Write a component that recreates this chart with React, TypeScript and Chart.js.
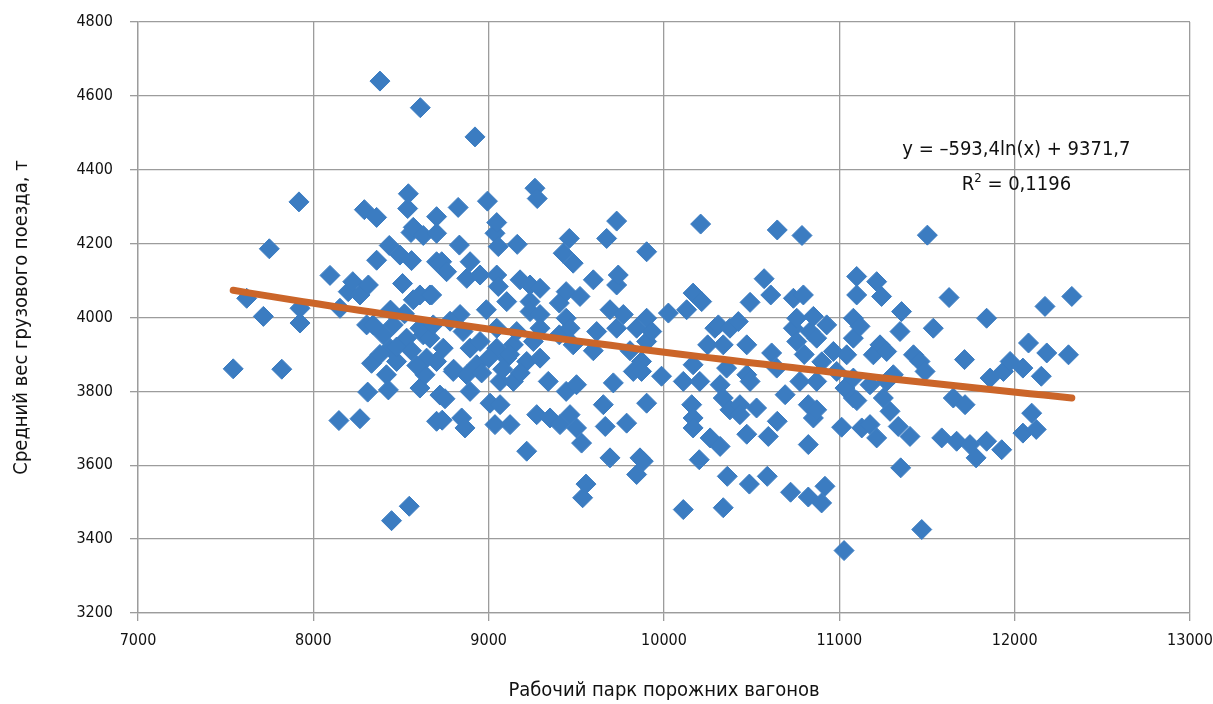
import React, { useEffect, useRef } from 'react';
import { Chart, registerables } from 'chart.js';

Chart.register(...registerables);

const FONT = "'Liberation Sans Narrow', 'DejaVu Sans Condensed', 'Roboto Condensed', Arial, sans-serif";

const xValues = [
  7543, 7620, 7715, 7749, 7820, 7918, 7924, 7924, 8095, 8146, 8152, 8199, 8225, 8266, 8266, 8291, 8304, 8310, 8314, 8332,
  8341, 8361, 8361, 8380, 8399, 8417, 8428, 8433, 8437, 8446, 8456, 8475, 8494, 8509, 8532, 8538, 8542, 8547, 8557, 8560,
  8570, 8570, 8608, 8608, 8608, 8610, 8627, 8627, 8637, 8646, 8665, 8665, 8675, 8684, 8703, 8703, 8703, 8703, 8703, 8722,
  8732, 8735, 8741, 8751, 8760, 8798, 8826, 8833, 8837, 8846, 8854, 8865, 8875, 8875, 8894, 8894, 8894, 8922, 8932, 8951,
  8951, 8987, 8993, 9008, 9036, 9036, 9046, 9046, 9046, 9046, 9055, 9055, 9065, 9065, 9103, 9103, 9122, 9141, 9141, 9160,
  9163, 9179, 9217, 9217, 9236, 9236, 9236, 9255, 9264, 9274, 9277, 9293, 9293, 9293, 9293, 9340, 9350, 9403, 9403, 9407,
  9425, 9442, 9442, 9442, 9460, 9464, 9464, 9482, 9482, 9501, 9501, 9521, 9530, 9536, 9555, 9597, 9597, 9616, 9654, 9665,
  9673, 9692, 9692, 9711, 9730, 9730, 9730, 9739, 9768, 9787, 9806, 9825, 9844, 9844, 9863, 9872, 9872, 9882, 9901, 9901,
  9901, 9901, 9930, 9986, 10025, 10110, 10110, 10129, 10158, 10166, 10166, 10166, 10166, 10201, 10204, 10209, 10215, 10249, 10263, 10290,
  10310, 10320, 10320, 10338, 10338, 10338, 10357, 10361, 10376, 10376, 10424, 10433, 10433, 10472, 10472, 10472, 10487, 10491, 10491, 10528,
  10571, 10589, 10595, 10609, 10614, 10643, 10646, 10646, 10691, 10722, 10738, 10738, 10757, 10757, 10775, 10787, 10795, 10823, 10823, 10823,
  10833, 10852, 10852, 10871, 10871, 10871, 10899, 10918, 10928, 10966, 10985, 11013, 11027, 11032, 11042, 11080, 11080, 11080, 11080, 11099,
  11099, 11118, 11100, 11128, 11175, 11175, 11194, 11213, 11213, 11232, 11241, 11251, 11270, 11270, 11289, 11308, 11336, 11346, 11350, 11355,
  11403, 11423, 11460, 11470, 11489, 11502, 11536, 11584, 11626, 11650, 11669, 11714, 11717, 11745, 11780, 11840, 11840, 11860, 11926, 11936,
  11974, 12047, 12047, 12079, 12097, 12123, 12152, 12173, 12183, 12307, 12326,
  8380, 8475, 8560, 8590, 8780, 8800, 8520, 8440, 9000, 9080, 9180, 9120, 8960, 10900, 10800
];

const yValues = [
  3861, 4052, 4003, 4186, 3860, 4313, 4025, 3985, 4114, 3721, 4025, 4070, 4097, 4061, 3726, 4292, 3980, 3798, 4088, 3876,
  3980, 4271, 4155, 4640, 3953, 3845, 3804, 4195, 3917, 3450, 3980, 3881, 4169, 4092, 3944, 4295, 4335, 3489, 4230, 4154,
  4244, 4048, 4061, 3971, 3809, 4568, 4222, 3953, 3845, 3890, 4061, 3944, 4061, 3980, 4273, 4228, 4151, 3881, 3719, 3790,
  4151, 3722, 3917, 3780, 4124, 3854, 4298, 4196, 4008, 3728, 3962, 3701, 4106, 3845, 4151, 3917, 3800, 4489, 3872, 4115,
  3935, 4021, 4315, 3768, 4228, 3710, 4257, 4115, 3971, 3917, 4192, 4084, 3827, 3764, 4043, 3890, 3710, 3926, 3827, 3962,
  4198, 4102, 3881, 3638, 4088, 4043, 4016, 3935, 4350, 3737, 4322, 4079, 4008, 3971, 3890, 3827, 3728, 4039, 3953, 3710,
  4174, 4070, 3998, 3800, 4214, 3971, 3737, 4147, 3926, 3818, 3701, 4057, 3660, 3512, 3549, 4102, 3910, 3962, 3764, 3705,
  4214, 4021, 3620, 3823, 4261, 4088, 3971, 4115, 4008, 3714, 3910, 3854, 3971, 3575, 3620, 3881, 3854, 3611, 4178, 3998,
  3935, 3768, 3962, 3841, 4012, 3827, 3480, 4021, 3764, 4066, 3872, 3728, 3701, 3615, 3827, 4253, 4043, 3926, 3674, 3971,
  3980, 3818, 3651, 3926, 3782, 3485, 3863, 3570, 3971, 3750, 3989, 3764, 3737, 3926, 3845, 3684, 3549, 4041, 3827, 3755,
  4105, 3570, 3678, 4061, 3904, 3863, 4237, 3719, 3791, 3527, 4052, 3971, 3998, 3935, 3827, 4222, 4061, 3764, 3656, 3514,
  3962, 4003, 3728, 3944, 3827, 3750, 3498, 3543, 3980, 3908, 3854, 3703, 3369, 3809, 3899, 3998, 3944, 3836, 3782, 4111,
  4061, 3976, 3775, 3701, 3818, 3710, 3899, 4097, 3674, 3926, 4057, 3782, 3908, 3827, 3746, 3845, 3705, 3962, 3593, 4016,
  3678, 3899, 3881, 3426, 3854, 4223, 3971, 3674, 4054, 3782, 3665, 3886, 3764, 3656, 3620, 3998, 3665, 3836, 3642, 3854,
  3881, 3863, 3687, 3931, 3741, 3697, 3841, 4030, 3904, 3899, 4057,
  3900, 3920, 3910, 3870, 3990, 3860, 4010, 4020, 3890, 3860, 3850, 3900, 3850, 3880, 3900
];

const xTicks = [7000, 8000, 9000, 10000, 11000, 12000, 13000];
const yTicks = [3200, 3400, 3600, 3800, 4000, 4200, 4400, 4600, 4800];

const trendCoefA = -593.4;
const trendCoefB = 9371.7;
const trendSteps = 60;

const equationText = 'y = –593,4ln(x) + 9371,7';
const r2Base = 'R';
const r2Sup = '2';
const r2Rest = ' = 0,1196';
const equationPos = { x: 12010, y: 4454 };
const r2Pos = { x: 12010, y: 4358 };

const xTitle = 'Рабочий парк порожних вагонов';
const yTitle = 'Средний вес грузового поезда, т';

const GRID = '#9c9c9c';
const BLUE = '#3b7cc1';
const ORANGE = '#cb6529';

export default function App() {
  const canvasRef = useRef<HTMLCanvasElement | null>(null);

  useEffect(() => {
    const canvas = canvasRef.current;
    if (!canvas) return;

    const points = xValues.map((x, i) => ({ x, y: yValues[i] }));
    const minX = Math.min(...xValues);
    const maxX = Math.max(...xValues);
    const trend = [] as { x: number; y: number }[];
    for (let i = 0; i <= trendSteps; i++) {
      const x = minX + ((maxX - minX) * i) / trendSteps;
      trend.push({ x, y: trendCoefA * Math.log(x) + trendCoefB });
    }

    const annotation = {
      id: 'equationLabel',
      afterDatasetsDraw(chart: any) {
        const { ctx, scales } = chart;
        const xs = scales.x;
        const ys = scales.y;
        ctx.save();
        ctx.fillStyle = '#111';
        ctx.textBaseline = 'middle';
        ctx.font = `20px ${FONT}`;
        ctx.textAlign = 'center';
        ctx.fillText(equationText, xs.getPixelForValue(equationPos.x), ys.getPixelForValue(equationPos.y));

        const cx = xs.getPixelForValue(r2Pos.x);
        const cy = ys.getPixelForValue(r2Pos.y);
        ctx.font = `20px ${FONT}`;
        const wBase = ctx.measureText(r2Base).width;
        const wRest = ctx.measureText(r2Rest).width;
        ctx.font = `13px ${FONT}`;
        const wSup = ctx.measureText(r2Sup).width;
        let left = cx - (wBase + wSup + wRest) / 2;
        ctx.textAlign = 'left';
        ctx.font = `20px ${FONT}`;
        ctx.fillText(r2Base, left, cy);
        left += wBase;
        ctx.font = `13px ${FONT}`;
        ctx.fillText(r2Sup, left, cy - 7);
        left += wSup;
        ctx.font = `20px ${FONT}`;
        ctx.fillText(r2Rest, left, cy);
        ctx.restore();
      },
    };

    const chart = new Chart(canvas, {
      type: 'scatter',
      data: {
        datasets: [
          {
            type: 'line',
            label: 'trend',
            data: trend,
            borderColor: ORANGE,
            borderWidth: 7,
            borderCapStyle: 'round',
            pointRadius: 0,
            fill: false,
            tension: 0,
            order: 0,
          },
          {
            label: 'data',
            data: points,
            pointStyle: 'rectRot',
            pointRadius: 10,
            pointBackgroundColor: BLUE,
            pointBorderColor: BLUE,
            pointBorderWidth: 1,
            order: 1,
          },
        ],
      },
      options: {
        responsive: false,
        animation: false,
        maintainAspectRatio: false,
        layout: { padding: { top: 22, right: 23, left: 0, bottom: 0 } },
        plugins: {
          legend: { display: false },
          tooltip: { enabled: false },
        },
        scales: {
          x: {
            type: 'linear',
            min: 7000,
            max: 13000,
            afterBuildTicks: (scale: any) => {
              scale.ticks = xTicks.map((v) => ({ value: v }));
            },
            afterFit: (scale: any) => {
              scale.height = 91;
              scale.paddingLeft = 0;
              scale.paddingRight = 0;
            },
            ticks: {
              color: '#111',
              font: { family: FONT, size: 16 },
              padding: 10,
              maxRotation: 0,
              callback: (v: any) => String(v),
            },
            grid: { color: GRID, lineWidth: 1.3, tickLength: 8, drawTicks: true },
            border: { display: true, color: GRID, width: 1.3 },
            title: {
              display: true,
              text: xTitle,
              color: '#111',
              font: { family: FONT, size: 20 },
              padding: { top: 0, bottom: 1 },
            },
          },
          y: {
            type: 'linear',
            min: 3200,
            max: 4800,
            afterBuildTicks: (scale: any) => {
              scale.ticks = yTicks.map((v) => ({ value: v }));
            },
            afterFit: (scale: any) => {
              scale.width = 138;
              scale.paddingTop = 0;
              scale.paddingBottom = 0;
            },
            ticks: {
              color: '#111',
              font: { family: FONT, size: 16 },
              padding: 17,
              callback: (v: any) => String(v),
            },
            grid: { color: GRID, lineWidth: 1.3, tickLength: 8, drawTicks: true },
            border: { display: true, color: GRID, width: 1.3 },
            title: {
              display: true,
              text: yTitle,
              color: '#111',
              font: { family: FONT, size: 20 },
              padding: { top: 10, bottom: 0 },
            },
          },
        },
      },
      plugins: [annotation],
    } as any);

    return () => {
      chart.destroy();
    };
  }, []);

  return (
    <div style={{ position: 'fixed', left: 0, top: 0, width: 1213, height: 704, background: '#fff' }}>
      <canvas ref={canvasRef} width={1213} height={704} style={{ display: 'block', width: 1213, height: 704 }} />
    </div>
  );
}
